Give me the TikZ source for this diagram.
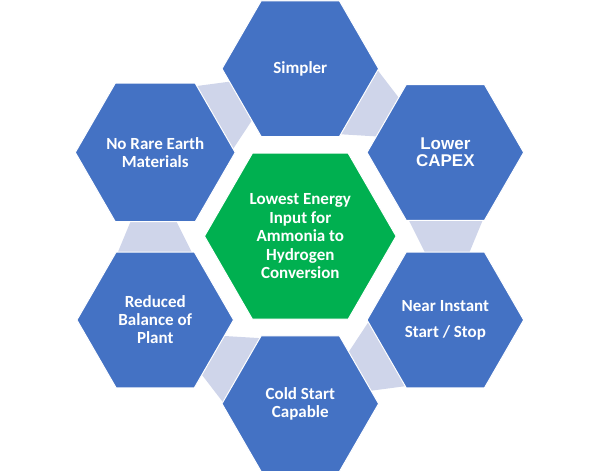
\documentclass[tikz,border=0pt]{standalone}
\usepackage{fontspec}
\setmainfont{Carlito}
\newfontfamily\arialfont{Liberation Sans}
\usetikzlibrary{shapes.geometric}
\definecolor{hexblue}{HTML}{4472C4}
\definecolor{hexgreen}{HTML}{00B050}
\definecolor{lav}{HTML}{CFD5EA}
\begin{document}
\begin{tikzpicture}[x=1pt,y=1pt,
  hexbase/.style={regular polygon, regular polygon sides=6, inner sep=0pt, outer sep=0pt,
    draw=white, line width=1pt, text=white, align=center,
    font=\bfseries\fontsize{17}{18}\selectfont},
  outerhex/.style={hexbase, fill=hexblue, minimum size=156.6pt},
  centerhex/.style={hexbase, fill=hexgreen, minimum size=191.6pt},
  link/.style={fill=lav, draw=none}]
\useasboundingbox (-300.3,-236.8) rectangle (299.7,236.2);
\foreach \k in {0,...,5}{
  \fill[link, rotate=60*\k] (107.45,18) -- (183.26,18) -- (168.37,-18) -- (125.45,-18) -- cycle;
}
\node[outerhex] (simpler) at (90:167.5) {Simpler};
\node[outerhex, font=\arialfont\bfseries\fontsize{17}{17.5}\selectfont] (capex) at (30:167.5) {Lower\\CAPEX};
\node[outerhex, font=\bfseries\fontsize{17}{26}\selectfont] (instant) at (-30:167.5) {Near Instant\\Start / Stop};
\node[outerhex] (cold) at (-90:167.5) {Cold Start\\Capable};
\node[outerhex] (bop) at (-150:167.5) {Reduced\\Balance of\\Plant};
\node[outerhex] (rare) at (150:167.5) {No Rare Earth\\Materials};
\node[centerhex, font=\bfseries\fontsize{17}{18.5}\selectfont] (core) at (0,0) {Lowest Energy\\Input for\\Ammonia to\\Hydrogen\\Conversion};
\end{tikzpicture}
\end{document}
